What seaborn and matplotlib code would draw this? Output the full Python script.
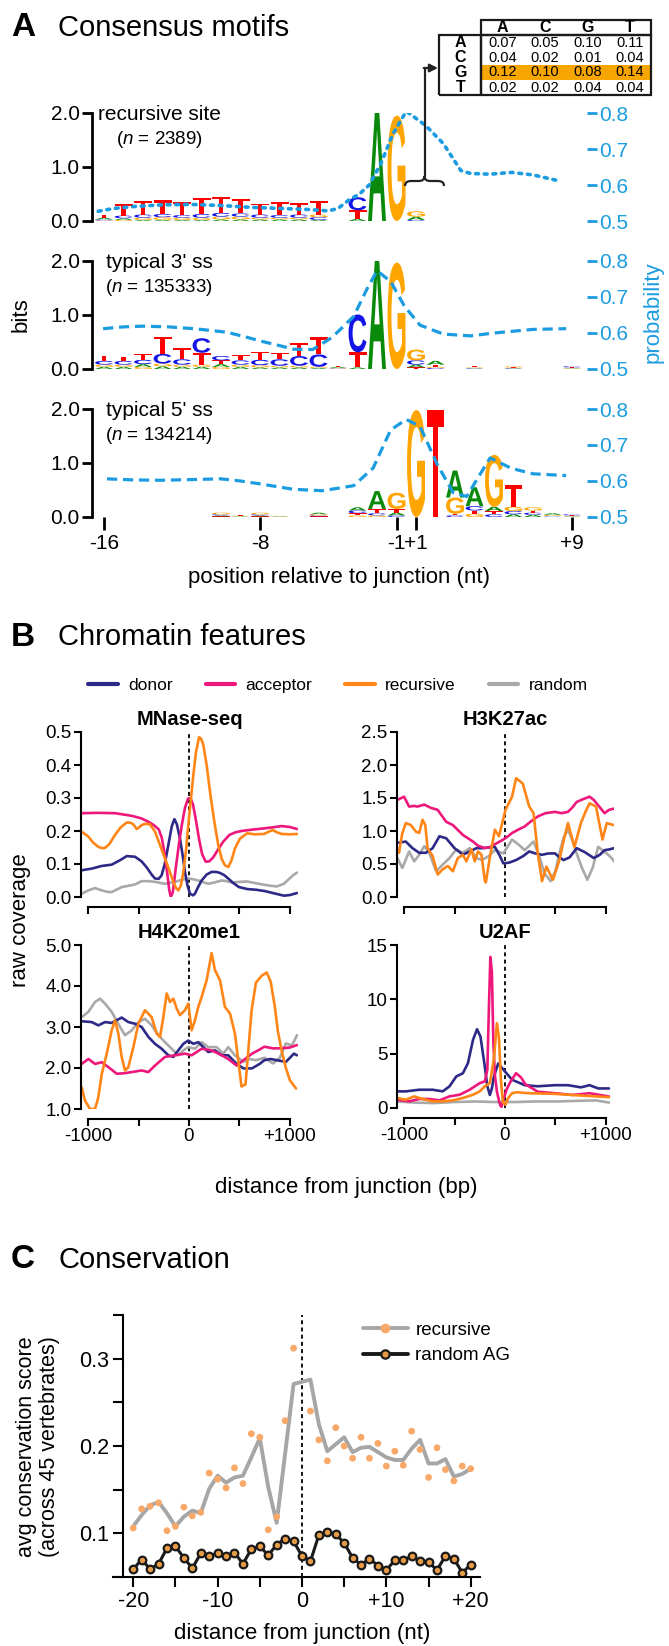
import matplotlib
matplotlib.use('Agg')
import matplotlib.pyplot as plt
import seaborn as sns
from matplotlib.textpath import TextPath
from matplotlib.patches import PathPatch, Rectangle
from matplotlib.path import Path
from matplotlib.transforms import Affine2D
from matplotlib.font_manager import FontProperties
from matplotlib.lines import Line2D

# ---------------- data: panel A (sequence logos, bits per letter) ----------------
logo_ticks = [0, 8, 15, 16, 24]
logo_ticklabels = ['-16', '-8', '-1', '+1', '+9']

rec_A = [.03, .03, .02, .02, .02, .02, .03, .03, .03, .03, .03, .02, 0, .04, 2.0, 0, .06, 0, 0, 0, 0, 0, 0, 0, 0]
rec_C = [.02, .05, .06, .06, .05, .07, .07, .06, .06, .05, .06, .05, 0, .24, 0, 0, .02, 0, 0, 0, 0, 0, 0, 0, 0]
rec_G = [.01, .02, .04, .05, .04, .04, .05, .05, .03, .03, .03, .05, 0, 0, 0, 1.95, .10, 0, 0, 0, 0, 0, 0, 0, 0]
rec_T = [.05, .22, .25, .25, .25, .30, .30, .27, .20, .25, .21, .25, 0, .16, 0, 0, 0, 0, 0, 0, 0, 0, 0, 0, 0]

ss3_A = [.04, .04, .05, .05, .04, .04, .05, .04, .03, .03, .03, .02, .02, .03, 2.0, 0, .05, .07, 0, .01, 0, .01, 0, 0, .01]
ss3_C = [.07, .07, .08, .18, .10, .27, .08, .08, .10, .12, .18, .23, .01, .70, 0, 0, .08, .02, 0, .01, 0, .01, 0, 0, .02]
ss3_G = [.04, .04, .04, .05, .04, .04, .04, .04, .04, .03, .03, .02, .01, 0, 0, 1.97, .20, .02, 0, .01, 0, .02, 0, 0, .01]
ss3_T = [.10, .08, .10, .32, .20, .22, .07, .10, .15, .12, .25, .32, .02, .28, 0, 0, .03, .04, 0, .02, 0, .01, 0, 0, .01]

ss5_A = [0, 0, 0, 0, 0, 0, .02, .01, .02, .01, 0, .03, 0, .06, .33, .05, 0, 0, .50, .35, .08, .05, .04, .03, .01]
ss5_C = [0, 0, 0, 0, 0, 0, .02, 0, .02, 0, 0, .02, 0, .05, .04, .03, 0, 0, .03, .08, .05, .06, .04, .01, .02]
ss5_G = [0, 0, 0, 0, 0, 0, .03, .01, .03, .01, 0, .02, 0, .03, .03, .30, 1.98, 0, .30, .06, .96, .08, .06, .02, .01]
ss5_T = [0, 0, 0, 0, 0, 0, .01, .01, .01, 0, 0, .01, 0, .04, .08, .07, 0, 1.98, .03, .06, .06, .40, .04, .01, .01]

rec_prob_x = [-0.3, 0.5, 1.5, 3.0, 4.5, 6.0, 7.5, 9.0, 10.5, 11.5, 12.0, 12.6, 13.1, 13.6, 14.2, 14.8, 15.5,
              16.5, 17.4, 18.3, 18.8, 19.8, 20.9, 22.0, 23.3]
rec_prob_y = [0.527, 0.535, 0.540, 0.545, 0.546, 0.543, 0.538, 0.535, 0.532, 0.528, 0.535, 0.560, 0.575,
              0.600, 0.660, 0.740, 0.805, 0.765, 0.715, 0.640, 0.632, 0.630, 0.635, 0.628, 0.612]
ss3_prob_x = [-0.05, 1.0, 2.0, 3.3, 4.6, 5.5, 6.3, 7.2, 8.0, 9.0, 9.7, 10.7, 11.7, 12.8, 13.5, 14.0, 14.7,
              15.4, 16.2, 17.4, 18.8, 20.0, 22.0, 23.7]
ss3_prob_y = [0.612, 0.617, 0.619, 0.617, 0.612, 0.607, 0.602, 0.590, 0.578, 0.565, 0.555, 0.554, 0.588,
              0.646, 0.724, 0.773, 0.743, 0.675, 0.622, 0.597, 0.592, 0.600, 0.610, 0.612]
ss5_prob_x = [0.15, 1.5, 2.9, 4.5, 6.0, 7.0, 8.0, 9.7, 11.2, 12.8, 13.8, 14.7, 15.5, 16.2, 17.1, 17.9, 18.6,
              19.3, 19.8, 20.9, 22.0, 23.7]
ss5_prob_y = [0.606, 0.603, 0.602, 0.604, 0.606, 0.600, 0.592, 0.577, 0.573, 0.587, 0.636, 0.742, 0.771,
              0.752, 0.645, 0.568, 0.557, 0.620, 0.664, 0.635, 0.620, 0.615]

table_rows = ['A', 'C', 'G', 'T']
table_cols = ['A', 'C', 'G', 'T']
table_vals = [['0.07', '0.05', '0.10', '0.11'],
              ['0.04', '0.02', '0.01', '0.04'],
              ['0.12', '0.10', '0.08', '0.14'],
              ['0.02', '0.02', '0.04', '0.04']]

# ---------------- data: panel B (raw coverage vs distance, bp) ----------------
mn_don_x = [-1063, -964, -866, -766, -680, -617, -535, -470, -420, -370, -337, -300, -271, -240, -205, -170, -145,
            -120, -89, -60, -40, -15, 10, 40, 59, 90, 125, 175, 224, 270, 307, 350, 389, 440, 495, 580, 663, 750,
            832, 900, 940, 1000, 1070]
mn_don_y = [0.081, 0.086, 0.094, 0.098, 0.112, 0.124, 0.122, 0.108, 0.090, 0.068, 0.056, 0.055, 0.066, 0.100,
            0.157, 0.215, 0.236, 0.220, 0.177, 0.120, 0.076, 0.035, 0.010, 0.005, 0.010, 0.030, 0.050, 0.068,
            0.076, 0.076, 0.073, 0.066, 0.056, 0.042, 0.030, 0.024, 0.022, 0.018, 0.012, 0.007, 0.004, 0.006, 0.012]
mn_acc_x = [-1063, -900, -733, -567, -470, -403, -350, -300, -270, -240, -215, -195, -180, -160, -130, -100, -70,
            -40, -10, 15, 40, 70, 100, 130, 165, 200, 240, 290, 340, 400, 460, 520, 620, 745, 850, 920, 1000, 1070]
mn_acc_y = [0.254, 0.255, 0.254, 0.246, 0.238, 0.228, 0.218, 0.205, 0.180, 0.130, 0.070, 0.020, 0.0, 0.015,
            0.090, 0.160, 0.220, 0.270, 0.298, 0.300, 0.280, 0.230, 0.175, 0.130, 0.107, 0.108, 0.120, 0.145,
            0.168, 0.188, 0.196, 0.200, 0.204, 0.208, 0.212, 0.215, 0.212, 0.206]
mn_rec_x = [-1063, -997, -950, -898, -860, -832, -790, -733, -680, -617, -580, -551, -518, -490, -469, -430, -386,
            -337, -290, -238, -200, -155, -130, -106, -80, -56, -30, -7, 20, 43, 70, 99, 120, 142, 175, 208, 250,
            290, 325, 356, 389, 420, 455, 505, 576, 650, 745, 790, 832, 870, 920, 1000, 1070]
mn_rec_y = [0.198, 0.183, 0.165, 0.152, 0.148, 0.149, 0.160, 0.188, 0.210, 0.226, 0.225, 0.220, 0.206, 0.212,
            0.218, 0.222, 0.220, 0.198, 0.160, 0.117, 0.085, 0.046, 0.028, 0.020, 0.035, 0.076, 0.140, 0.218,
            0.300, 0.370, 0.440, 0.484, 0.480, 0.461, 0.400, 0.319, 0.230, 0.157, 0.115, 0.096, 0.091, 0.110,
            0.147, 0.177, 0.193, 0.190, 0.191, 0.198, 0.203, 0.196, 0.191, 0.190, 0.191]
mn_ran_x = [-1063, -997, -931, -864, -800, -766, -700, -667, -600, -535, -469, -400, -337, -290, -238, -190, -139,
            -70, -7, 40, 92, 140, 191, 250, 324, 370, 422, 505, 576, 660, 745, 810, 870, 940, 1000, 1040, 1070]
mn_ran_y = [0.010, 0.020, 0.027, 0.020, 0.015, 0.015, 0.025, 0.030, 0.034, 0.038, 0.048, 0.048, 0.046, 0.043,
            0.040, 0.043, 0.046, 0.052, 0.056, 0.054, 0.050, 0.045, 0.040, 0.044, 0.050, 0.048, 0.044, 0.046,
            0.047, 0.042, 0.037, 0.034, 0.032, 0.040, 0.057, 0.068, 0.074]

k27_don_x = [-1067, -983, -917, -850, -783, -717, -650, -583, -500, -417, -350, -283, -230, -160, -100, -50, -17,
             40, 110, 180, 240, 300, 367, 430, 496, 540, 580, 640, 710, 790, 880, 940, 987, 1030, 1080]
k27_don_y = [0.82, 0.84, 0.74, 0.67, 0.67, 0.74, 0.92, 0.89, 0.74, 0.64, 0.69, 0.74, 0.74, 0.75, 0.76, 0.62, 0.51,
             0.52, 0.56, 0.62, 0.69, 0.66, 0.64, 0.66, 0.66, 0.60, 0.56, 0.60, 0.74, 0.68, 0.59, 0.64, 0.71, 0.72, 0.74]
k27_acc_x = [-1067, -1000, -950, -900, -867, -800, -733, -667, -583, -517, -417, -317, -270, -200, -144, -100, -17,
             30, 70, 130, 196, 260, 325, 400, 496, 560, 624, 670, 710, 770, 838, 880, 923, 987, 1030, 1080]
k27_acc_y = [1.47, 1.52, 1.37, 1.38, 1.37, 1.40, 1.35, 1.32, 1.14, 1.09, 0.94, 0.84, 0.78, 0.74, 0.76, 0.80, 0.87,
             0.92, 0.97, 1.02, 1.07, 1.15, 1.22, 1.27, 1.29, 1.27, 1.29, 1.36, 1.44, 1.48, 1.52, 1.47, 1.39, 1.27,
             1.32, 1.34]
k27_rec_x = [-1067, -1050, -1020, -983, -933, -883, -850, -817, -790, -767, -717, -667, -617, -567, -517, -467,
             -417, -383, -333, -300, -267, -233, -200, -190, -144, -100, -60, 5, 70, 110, 176, 240, 283, 325, 367,
             410, 475, 539, 580, 624, 688, 752, 800, 838, 902, 966, 1008, 1050, 1080]
k27_rec_y = [0.74, 0.67, 0.95, 1.12, 1.09, 0.99, 0.97, 1.17, 1.09, 0.74, 0.62, 0.34, 0.42, 0.47, 0.39, 0.59, 0.64,
             0.54, 0.72, 0.54, 0.69, 0.64, 0.25, 0.22, 0.66, 1.02, 0.92, 1.32, 1.52, 1.80, 1.72, 1.37, 1.27, 0.66,
             0.24, 0.46, 0.26, 0.56, 0.85, 1.12, 0.76, 1.12, 1.30, 1.42, 1.37, 0.87, 1.12, 1.10, 1.09]
k27_ran_x = [-1067, -1017, -950, -900, -850, -800, -750, -683, -617, -550, -483, -417, -350, -283, -230, -160, -100,
             -17, 70, 130, 196, 283, 340, 390, 453, 500, 539, 580, 624, 670, 710, 760, 816, 870, 923, 1008, 1050, 1080]
k27_ran_y = [0.59, 0.44, 0.69, 0.54, 0.64, 0.77, 0.67, 0.39, 0.49, 0.59, 0.72, 0.67, 0.74, 0.59, 0.56, 0.62, 0.71,
             0.66, 0.87, 0.80, 0.71, 0.84, 0.62, 0.36, 0.24, 0.40, 0.66, 0.90, 1.02, 0.85, 0.66, 0.45, 0.26, 0.45,
             0.76, 0.66, 0.60, 0.54]

k20_don_x = [-1063, -964, -898, -832, -766, -667, -601, -535, -469, -403, -337, -271, -205, -155, -106, -56, -7, 43,
             92, 142, 191, 257, 324, 389, 472, 540, 624, 700, 747, 810, 871, 960, 1040, 1070]
k20_don_y = [3.14, 3.12, 3.04, 3.12, 3.10, 3.23, 3.12, 3.08, 3.00, 2.76, 2.59, 2.47, 2.31, 2.27, 2.43, 2.59, 2.67,
             2.59, 2.63, 2.51, 2.39, 2.43, 2.31, 2.31, 2.10, 1.99, 1.99, 2.10, 2.19, 2.22, 2.19, 2.15, 2.35, 2.31]
k20_acc_x = [-1063, -997, -931, -864, -798, -716, -650, -567, -469, -403, -337, -238, -139, -40, 26, 125, 224, 324,
             389, 472, 540, 624, 700, 747, 830, 917, 1000, 1070]
k20_acc_y = [2.10, 2.22, 2.10, 2.14, 2.02, 1.86, 1.87, 1.90, 1.94, 1.90, 2.06, 2.27, 2.31, 2.35, 2.31, 2.47, 2.43,
             2.31, 2.22, 2.06, 2.19, 2.35, 2.45, 2.52, 2.48, 2.48, 2.50, 2.56]
k20_rec_x = [-1063, -1030, -980, -931, -898, -864, -815, -766, -733, -700, -667, -634, -601, -551, -502, -436, -370,
             -320, -287, -254, -221, -188, -155, -122, -89, -40, -7, 26, 59, 92, 125, 175, 224, 257, 307, 356, 406,
             455, 520, 560, 620, 663, 720, 770, 810, 850, 880, 920, 960, 1000, 1060]
k20_rec_y = [1.53, 1.20, 1.00, 1.00, 1.29, 1.86, 2.35, 2.92, 3.16, 2.84, 2.27, 1.94, 2.02, 2.51, 3.08, 3.41, 3.24,
             2.84, 2.76, 3.24, 3.82, 3.61, 3.69, 3.45, 3.29, 3.41, 3.57, 2.92, 3.16, 3.49, 3.73, 4.14, 4.80, 4.39,
             4.14, 3.49, 3.33, 2.84, 1.55, 1.60, 3.40, 4.08, 4.25, 4.33, 4.10, 3.50, 2.90, 2.40, 2.00, 1.70, 1.50]
k20_ran_x = [-1063, -997, -931, -881, -832, -766, -683, -634, -567, -502, -436, -370, -304, -238, -155, -106, -56,
             -7, 59, 125, 191, 274, 340, 389, 455, 540, 600, 663, 750, 832, 900, 960, 1020, 1070]
k20_ran_y = [3.24, 3.37, 3.61, 3.69, 3.57, 3.37, 3.00, 2.80, 2.92, 3.12, 3.20, 3.04, 2.80, 2.63, 2.43, 2.31, 2.43,
             2.51, 2.47, 2.63, 2.51, 2.51, 2.35, 2.51, 2.31, 2.15, 2.22, 2.19, 2.25, 2.11, 2.25, 2.60, 2.55, 2.80]

u2_don_x = [-1067, -983, -850, -717, -617, -550, -483, -417, -367, -317, -277, -243, -200, -175, -150, -130, -110,
            -67, 5, 70, 196, 325, 496, 624, 752, 838, 923, 1030]
u2_don_y = [1.53, 1.53, 1.68, 1.68, 1.53, 1.99, 2.90, 3.20, 4.13, 6.27, 7.25, 6.57, 3.82, 2.00, 1.20, 1.80, 2.90,
            4.10, 3.30, 2.60, 2.10, 2.00, 2.10, 2.10, 1.90, 2.10, 1.80, 1.80]
u2_acc_x = [-1067, -950, -850, -750, -650, -550, -450, -350, -250, -200, -175, -160, -145, -130, -115, -100, -80,
            -50, -35, -15, 20, 60, 110, 160, 200, 325, 496, 667, 838, 1030]
u2_acc_y = [0.76, 0.61, 0.83, 0.83, 0.70, 1.07, 1.22, 1.68, 2.29, 2.45, 3.50, 9.00, 13.9, 12.5, 6.00, 3.00, 1.50,
            0.30, 0.10, 0.80, 1.80, 2.50, 3.20, 2.80, 2.20, 1.50, 1.36, 1.20, 1.36, 1.06]
u2_rec_x = [-1067, -983, -900, -817, -717, -617, -517, -417, -317, -250, -200, -150, -110, -80, -60, -40, -20, 5,
            30, 70, 120, 240, 496, 752, 1030]
u2_rec_y = [0.92, 0.76, 1.07, 0.83, 0.61, 0.61, 0.70, 0.92, 1.22, 1.53, 1.99, 2.30, 4.50, 7.80, 6.50, 2.50, 0.50,
            0.30, 0.90, 1.36, 1.45, 1.36, 1.30, 1.15, 1.00]
u2_ran_x = [-1067, -900, -700, -500, -300, -100, 100, 300, 500, 700, 900, 1030]
u2_ran_y = [0.60, 0.50, 0.45, 0.55, 0.60, 0.55, 0.55, 0.60, 0.60, 0.65, 0.70, 0.50]

# ---------------- data: panel C (conservation) ----------------
rec_pos = list(range(-20, 0)) + list(range(1, 21))
cons_rec_pts = [0.106, 0.128, 0.131, 0.135, 0.103, 0.108, 0.130, 0.120, 0.124, 0.169, 0.162, 0.152, 0.175, 0.157,
                0.214, 0.210, 0.104, 0.119, 0.229, 0.312, 0.240, 0.207, 0.183, 0.221, 0.200, 0.186, 0.210, 0.186,
                0.203, 0.177, 0.194, 0.178, 0.217, 0.196, 0.164, 0.198, 0.173, 0.160, 0.177, 0.174]
cons_rec_line = [0.108, 0.121, 0.132, 0.136, 0.123, 0.108, 0.119, 0.126, 0.123, 0.151, 0.166, 0.158, 0.164, 0.166,
                 0.187, 0.209, 0.153, 0.112, 0.191, 0.271, 0.276, 0.225, 0.194, 0.202, 0.210, 0.193, 0.198, 0.199,
                 0.193, 0.187, 0.184, 0.184, 0.197, 0.207, 0.180, 0.180, 0.185, 0.165, 0.168, 0.174]
ran_pos = list(range(-20, 21))
cons_ran = [0.059, 0.070, 0.059, 0.065, 0.083, 0.085, 0.072, 0.060, 0.077, 0.074, 0.077, 0.074, 0.078, 0.065, 0.082,
            0.085, 0.075, 0.087, 0.094, 0.091, 0.074, 0.068, 0.098, 0.102, 0.099, 0.089, 0.072, 0.064, 0.071, 0.063,
            0.058, 0.069, 0.069, 0.074, 0.068, 0.067, 0.058, 0.074, 0.071, 0.055, 0.064]

# ---------------- style ----------------
sns.set_theme(style='ticks')
plt.rcParams['font.family'] = ['Liberation Sans', 'DejaVu Sans']
plt.rcParams.update({'mathtext.fontset': 'custom', 'mathtext.rm': 'Liberation Sans',
                     'mathtext.it': 'Liberation Sans:italic', 'axes.linewidth': 1.5,
                     'axes.edgecolor': 'black', 'xtick.color': 'black', 'ytick.color': 'black',
                     'text.color': 'black', 'axes.labelcolor': 'black'})

BLUE = '#1c9ce0'
LETTER_COLORS = {'A': '#0a8a0a', 'C': '#1414e6', 'G': '#ffa500', 'T': '#ff0000'}
DONOR, ACCEPTOR, RECURSIVE, RANDOM = '#2d2a87', '#ee177b', '#ff8516', '#a9a9a9'

W, H = 669, 1646
fig = plt.figure(figsize=(W / 100, H / 100), dpi=100)


def px_axes(l, t, r, b):
    return fig.add_axes([l / W, 1 - b / H, (r - l) / W, (b - t) / H])


def ftext(x, y, s, **kw):
    return fig.text(x / W, 1 - y / H, s, **kw)


letter_fp = FontProperties(family=['Liberation Sans', 'DejaVu Sans'], weight='bold')
letter_paths = {ch: TextPath((0, 0), ch, size=1, prop=letter_fp) for ch in 'ACGT'}


def draw_logo(ax, cols):
    for i in range(len(cols['A'])):
        stack = sorted((cols[ch][i], ch) for ch in 'ACGT')
        y0 = 0.0
        for h, ch in stack:
            if h <= 0:
                continue
            tp = letter_paths[ch]
            bb = tp.get_extents()
            w = 0.92
            tr = (Affine2D().translate(-bb.x0, -bb.y0)
                  .scale(w / bb.width, h / bb.height).translate(i - w / 2, y0))
            ax.add_patch(PathPatch(tr.transform_path(tp), facecolor=LETTER_COLORS[ch],
                                   edgecolor='none', zorder=2))
            y0 += h


# ---------------- panel A ----------------
ftext(11, 28, 'A', fontsize=24, fontweight='bold', va='center')
ftext(58, 28, 'Consensus motifs', fontsize=21, va='center')

logo_sets = [
    (dict(A=rec_A, C=rec_C, G=rec_G, T=rec_T), rec_prob_x, rec_prob_y, 'recursive site', '2389', (113, 221)),
    (dict(A=ss3_A, C=ss3_C, G=ss3_G, T=ss3_T), ss3_prob_x, ss3_prob_y, "typical 3' ss", '135333', (261, 369)),
    (dict(A=ss5_A, C=ss5_C, G=ss5_G, T=ss5_T), ss5_prob_x, ss5_prob_y, "typical 5' ss", '134214', (409, 517)),
]
for k, (cols, px, py, name, n, (top, bot)) in enumerate(logo_sets):
    ax = px_axes(92, top, 587, bot)
    draw_logo(ax, cols)
    tw = ax.twinx()
    if k == 0:
        sns.lineplot(x=px, y=py, ax=tw, color=BLUE, lw=2.6, linestyle=(0, (0.8, 1.6)),
                     dash_capstyle='round')
    else:
        sns.lineplot(x=px, y=py, ax=tw, color=BLUE, lw=2.3, linestyle=(0, (3.2, 1.8)))
    ax.set_xlim(-0.62, 24.77)
    ax.set_ylim(0, 2)
    tw.set_ylim(0.5, 0.8)
    for s in ['top', 'right', 'bottom']:
        ax.spines[s].set_visible(False)
        tw.spines[s].set_visible(False)
    tw.spines['left'].set_visible(False)
    ax.spines['left'].set_linewidth(2)
    tw.spines['right'].set_linewidth(2)
    tw.spines['right'].set_color(BLUE)
    ax.set_yticks([0, 1, 2], ['0.0', '1.0', '2.0'])
    tw.set_yticks([0.5, 0.6, 0.7, 0.8], ['0.5', '0.6', '0.7', '0.8'])
    ax.tick_params(axis='y', length=7, width=2, labelsize=15, pad=2)
    tw.tick_params(axis='y', length=7, width=2, labelsize=15, pad=2, colors=BLUE)
    tw.set_xlabel('')
    tw.set_ylabel('')
    if k < 2:
        ax.set_xticks([])
    else:
        ax.set_xticks(logo_ticks, logo_ticklabels)
        ax.tick_params(axis='x', length=9, width=2, labelsize=15, pad=3)
    ax.text(0.136, 0.99, name, transform=ax.transAxes, ha='center', va='center', fontsize=15)
    ax.text(0.136, 0.75, '($\\mathit{n}$ = ' + n + ')', transform=ax.transAxes,
            ha='center', va='center', fontsize=13.5)

ftext(21, 315, 'bits', rotation=90, ha='center', va='center', fontsize=16)
ftext(653, 312, 'probability', rotation=90, ha='center', va='center', fontsize=16, color=BLUE)
ftext(339, 577, 'position relative to junction (nt)', ha='center', va='center', fontsize=16)

# inset table of probabilities
tab_ax = px_axes(439, 20, 651, 95)
tab_ax.axis('off')
tab_ax.add_patch(Rectangle((0.2, 0.2), 0.8, 0.2, transform=tab_ax.transAxes,
                           facecolor='#f7a500', edgecolor='none', zorder=0))
cell_text = [[''] + table_cols] + [[r] + v for r, v in zip(table_rows, table_vals)]
tbl = tab_ax.table(cellText=cell_text, colWidths=[0.2] * 5, bbox=[0, 0, 1, 1], cellLoc='center')
tbl.auto_set_font_size(False)
for (r, c), cell in tbl.get_celld().items():
    cell.set_linewidth(1.6)
    edges = ''
    if r == 0 and c > 0:
        edges = 'TB' + ('L' if c == 1 else '') + ('R' if c == 4 else '')
    elif r > 0 and c == 0:
        edges = 'LR' + ('T' if r == 1 else '') + ('B' if r == 4 else '')
    elif r > 0 and c > 0:
        edges = ('T' if r == 1 else '') + ('B' if r == 4 else '') + ('L' if c == 1 else '') + ('R' if c == 4 else '')
    cell.visible_edges = edges if edges else 'open'
    cell.set_facecolor('none')
    txt = cell.get_text()
    if r == 0 or c == 0:
        txt.set_fontweight('bold')
        txt.set_fontsize(11.5)
    else:
        txt.set_fontsize(10.5)

# ---------------- panel B ----------------
ftext(11, 637, 'B', fontsize=24, fontweight='bold', va='center')
ftext(58, 637, 'Chromatin features', fontsize=21, va='center')

chrom_panels = [
    ('MNase-seq', (81, 732, 298, 897), [(mn_ran_x, mn_ran_y), (mn_don_x, mn_don_y), (mn_acc_x, mn_acc_y),
                                        (mn_rec_x, mn_rec_y)],
     (0, 0.5), [0, 0.1, 0.2, 0.3, 0.4, 0.5], ['0.0', '0.1', '0.2', '0.3', '0.4', '0.5'], False),
    ('H3K27ac', (397, 732, 614, 897), [(k27_ran_x, k27_ran_y), (k27_don_x, k27_don_y), (k27_acc_x, k27_acc_y),
                                       (k27_rec_x, k27_rec_y)],
     (0, 2.5), [0, 0.5, 1.0, 1.5, 2.0, 2.5], ['0.0', '0.5', '1.0', '1.5', '2.0', '2.5'], False),
    ('H4K20me1', (81, 945, 298, 1109), [(k20_ran_x, k20_ran_y), (k20_don_x, k20_don_y), (k20_acc_x, k20_acc_y),
                                        (k20_rec_x, k20_rec_y)],
     (1, 5), [1, 2, 3, 4, 5], ['1.0', '2.0', '3.0', '4.0', '5.0'], True),
    ('U2AF', (397, 945, 614, 1108), [(u2_ran_x, u2_ran_y), (u2_don_x, u2_don_y), (u2_acc_x, u2_acc_y),
                                     (u2_rec_x, u2_rec_y)],
     (0, 15), [0, 5, 10, 15], ['0', '5', '10', '15'], True),
]
for title, box, series, ylim, yt, ytl, xlab in chrom_panels:
    ax = px_axes(*box)
    for (xs, ys), color in zip(series, [RANDOM, DONOR, ACCEPTOR, RECURSIVE]):
        sns.lineplot(x=xs, y=ys, ax=ax, color=color, lw=1.9)
    ax.axvline(0, color='black', lw=1.3, ls=(0, (2.2, 1.8)), zorder=1)
    ax.set_xlim(-1070, 1080)
    ax.set_ylim(*ylim)
    ax.set_xlabel('')
    ax.set_ylabel('')
    ax.spines['top'].set_visible(False)
    ax.spines['right'].set_visible(False)
    ax.spines['bottom'].set_position(('outward', 7))
    ax.spines['bottom'].set_bounds(-1000, 1000)
    ax.set_yticks(yt, ytl)
    ax.set_xticks([-1000, -500, 0, 500, 1000],
                  ['-1000', '', '0', '', '+1000'] if xlab else [''] * 5)
    ax.tick_params(length=5, width=1.5, labelsize=13.5, pad=2)
    ax.set_title(title, fontweight='bold', fontsize=14.5, pad=5)

legend_handles = [Line2D([], [], color=c, lw=3) for c in [DONOR, ACCEPTOR, RECURSIVE, RANDOM]]
fig.legend(legend_handles, ['donor', 'acceptor', 'recursive', 'random'], loc='center',
           bbox_to_anchor=(338 / W, 1 - 685 / H), ncol=4, frameon=False, fontsize=12.5,
           handlelength=1.7, handletextpad=0.6, columnspacing=1.9)
ftext(346, 1187, 'distance from junction (bp)', ha='center', va='center', fontsize=16)
ftext(21, 920, 'raw coverage', rotation=90, ha='center', va='center', fontsize=16)

# ---------------- panel C ----------------
ftext(11, 1260, 'C', fontsize=24, fontweight='bold', va='center')
ftext(58, 1260, 'Conservation', fontsize=21, va='center')

axc = px_axes(113, 1315, 480, 1577)
sns.lineplot(x=rec_pos, y=cons_rec_line, ax=axc, color='#a6a6a6', lw=2.8)
sns.scatterplot(x=rec_pos, y=cons_rec_pts, ax=axc, color='#f8a868', s=24, edgecolor='none', zorder=3)
sns.lineplot(x=ran_pos, y=cons_ran, ax=axc, color='#1a1a1a', lw=2.2, marker='o', markersize=5.5,
             markerfacecolor='#e89a45', markeredgecolor='#1a1a1a', markeredgewidth=1.6)
axc.axvline(0, color='black', lw=1.3, ls=(0, (2.2, 1.8)), zorder=1)
axc.set_xlim(-22.4, 21.1)
axc.set_ylim(0.05, 0.35)
axc.set_xlabel('')
axc.set_ylabel('')
axc.spines['top'].set_visible(False)
axc.spines['right'].set_visible(False)
axc.spines['left'].set_position(('data', -21.2))
axc.set_yticks([0.1, 0.2, 0.3], ['0.1', '0.2', '0.3'])
axc.set_yticks([0.05, 0.15, 0.25, 0.35], minor=True)
axc.set_xticks([-20, -10, 0, 10, 20], ['-20', '-10', '0', '+10', '+20'])
axc.set_xticks([-15, -5, 5, 15], minor=True)
axc.tick_params(which='both', length=7, width=1.5, labelsize=15.5, pad=3)
c_handles = [Line2D([], [], color='#a6a6a6', lw=2.8, marker='o', markersize=7, markerfacecolor='#f8a868',
                    markeredgecolor='none'),
             Line2D([], [], color='#1a1a1a', lw=2.8, marker='o', markersize=6, markerfacecolor='#e89a45',
                    markeredgecolor='#1a1a1a', markeredgewidth=1.6)]
axc.legend(c_handles, ['recursive', 'random AG'], loc='upper left', bbox_to_anchor=(0.635, 1.04),
           frameon=False, fontsize=13.5, handlelength=2.4, handletextpad=0.4, labelspacing=0.45)
ftext(302, 1633, 'distance from junction (nt)', ha='center', va='center', fontsize=16)
ftext(38, 1447, 'avg conservation score\n(across 45 vertebrates)', rotation=90, ha='center',
      va='center', fontsize=15.5, linespacing=1.15)

# ---------------- annotations: brace + arrow to table ----------------
ov = fig.add_axes([0, 0, 1, 1])
ov.set_xlim(0, W)
ov.set_ylim(H, 0)
ov.axis('off')
brace = Path([(405, 186), (405, 181), (411, 181), (419, 181), (424.5, 181), (424.5, 176),
              (424.5, 181), (430, 181), (438, 181), (444, 181), (444, 186)],
             [Path.MOVETO, Path.CURVE3, Path.CURVE3, Path.LINETO, Path.CURVE3, Path.CURVE3,
              Path.CURVE3, Path.CURVE3, Path.LINETO, Path.CURVE3, Path.CURVE3])
ov.add_patch(PathPatch(brace, facecolor='none', edgecolor='#222222', lw=1.6))
ov.plot([424.5, 424.5], [176, 68], color='#222222', lw=1.6)
ov.annotate('', xy=(438, 68), xytext=(423.7, 68),
            arrowprops=dict(arrowstyle='-|>', color='#222222', lw=1.6, mutation_scale=12,
                            shrinkA=0, shrinkB=0))

fig.savefig('out.png', dpi=100)
